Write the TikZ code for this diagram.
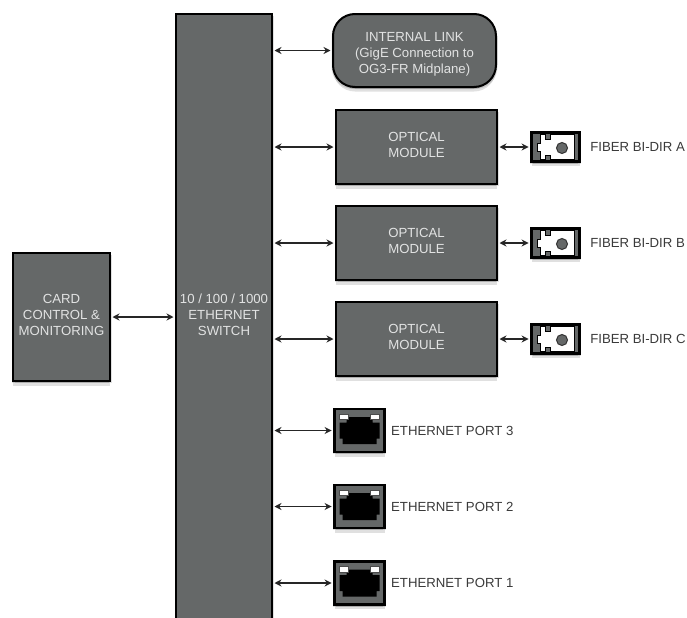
\documentclass[tikz,border=0pt]{standalone}
\usepackage{fontspec}
\setmainfont{Liberation Sans}
\usepackage{tikz}
\usetikzlibrary{arrows.meta,positioning,shadows}
\definecolor{boxcol}{HTML}{656868}
\definecolor{boxtxt}{HTML}{E2E3E3}
\definecolor{lblcol}{HTML}{3A3A3A}
\def\px{0.75pt}
\tikzset{
  softshadow/.style={
    general shadow={shadow xshift=-1.5*\px,shadow yshift=-2*\px,opacity=.12,fill=black},
    general shadow={shadow xshift=1.5*\px,shadow yshift=-2*\px,opacity=.12,fill=black},
    general shadow={shadow yshift=-4.5*\px,opacity=.12,fill=black}},
  blockbox/.style={softshadow,draw=black,line width=2*\px,fill=boxcol,text=boxtxt,align=center,
    font=\fontsize{9.9pt}{12pt}\selectfont,inner sep=0pt},
  portbox/.style={blockbox,line width=2.8*\px},
  portlabel/.style={text=lblcol,font=\fontsize{9.9pt}{12pt}\selectfont,inner sep=0pt},
  biarrow/.style={{Stealth[length=7*\px,width=7*\px]}-{Stealth[length=7*\px,width=7*\px]},line width=1.2*\px,draw=black!85,
    shorten <=1.5*\px,shorten >=1.5*\px},
  fiberjack/.pic={
    \draw[fill=white,draw=black,line width=1*\px] (18.5,-12.5) -- (-5.5,-12.5) -- (-5.5,-8) -- (-9.7,-8) -- (-9.7,-12.5)
      -- (-15,-12.5) -- (-15,-4) -- (-18.5,-4) -- (-18.5,4) -- (-15,4) -- (-15,12.5) -- (-9.7,12.5)
      -- (-9.7,8) -- (-5.5,8) -- (-5.5,12.5) -- (18.5,12.5) -- cycle;
    \draw[fill=boxcol,draw=black!80,line width=1*\px] (6.5,1) circle (5.5);
  },
  ethjack/.pic={
    \fill[black] (-13,-13.5) -- (13,-13.5) -- (13,-8) -- (20,-8) -- (20,8) -- (17,8) -- (17,13.5)
      -- (-17,13.5) -- (-17,8) -- (-20,8) -- (-20,-8) -- (-13,-8) -- cycle;
    \draw[fill=white,draw=black!70,line width=.8*\px] (-20,-16.5) rectangle (-11,-11);
    \draw[fill=white,draw=black!70,line width=.8*\px] (11,-16.5) rectangle (20,-11);
  },
}
\begin{document}
\begin{tikzpicture}[x=\px,y=-\px,>=Stealth]
  \useasboundingbox (0,0) rectangle (687,618);
  % main blocks, the switch runs off the bottom of the page
  \node[blockbox,minimum width=96*\px,minimum height=620*\px] (switch) at (224,324) {};
  \node[text=boxtxt,align=center,font=\fontsize{9.9pt}{12pt}\selectfont,inner sep=0pt] (switchtxt) at (224,315) {10 / 100 / 1000\\ETHERNET\\SWITCH};
  \node[blockbox,text depth=2.8pt,minimum width=97*\px,minimum height=128*\px] (card) at (61.5,317) {CARD\\CONTROL \&\\MONITORING};
  \node[blockbox,rounded corners=22*\px,minimum width=163*\px,minimum height=73*\px] (link) at (414.5,50.5) {\rule{0pt}{13pt}INTERNAL LINK\\(GigE Connection to\\OG3-FR Midplane)};
  \draw[biarrow] (card.east) -- (card.east -| switch.west);
  \draw[biarrow] (link.west) -- (link.west -| switch.east);
  % optical modules and their fiber connectors
  \foreach \n/\y/\t in {a/147/A,b/243/B,c/339/C} {
    \node[blockbox,text depth=2.5pt,minimum width=161*\px,minimum height=74*\px] (opt\n) at (416.5,\y) {OPTICAL\\MODULE};
    \node[portbox,minimum width=48*\px,minimum height=29*\px] (fib\n) at (555.5,\y) {};
    \pic at (fib\n.center) {fiberjack};
    \node[portlabel,anchor=west] (fiblbl\n) at (590,\y) {FIBER BI-DIR \t};
    \draw[biarrow] (opt\n.west) -- (opt\n.west -| switch.east);
    \draw[biarrow] (opt\n.east) -- (fib\n.west);
  }
  % ethernet ports
  \foreach \n/\y in {3/430.5,2/506.5,1/583} {
    \node[portbox,minimum width=50*\px,minimum height=43*\px] (eth\n) at (359.5,\y) {};
    \pic at (eth\n.center) {ethjack};
    \node[portlabel,right=5*\px of eth\n] (ethlbl\n) {ETHERNET PORT \n};
    \draw[biarrow] (eth\n.west) -- (eth\n.west -| switch.east);
  }
\end{tikzpicture}
\end{document}
